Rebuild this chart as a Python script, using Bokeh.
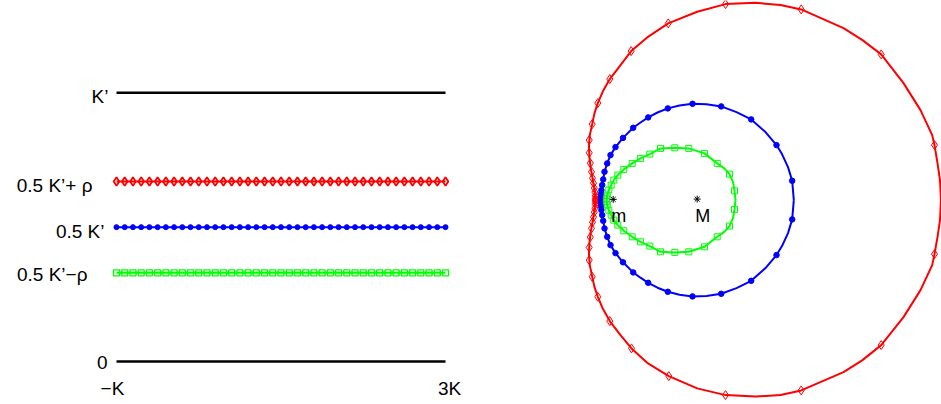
from bokeh.plotting import figure
from bokeh.layouts import row
from bokeh.models import Range1d, ColumnDataSource
from bokeh.core.properties import value
from bokeh.embed import file_html
from bokeh.resources import INLINE

# ---------------- data ----------------
# left panel: strip coordinates (K = 1, K' = 1)
K = 1.0
KP = 1.0
RHO = 0.17
u_samples = [-1.0, -0.9, -0.8, -0.7, -0.6, -0.5, -0.4, -0.3, -0.2, -0.1, 0.0,
             0.1, 0.2, 0.3, 0.4, 0.5, 0.6, 0.7, 0.8, 0.9, 1.0,
             1.1, 1.2, 1.3, 1.4, 1.5, 1.6, 1.7, 1.8, 1.9, 2.0,
             2.1, 2.2, 2.3, 2.4, 2.5, 2.6, 2.7, 2.8, 2.9, 3.0]
level_black = [0.0, KP]
level_red = 0.5 * KP + RHO
level_blue = 0.5 * KP
level_green = 0.5 * KP - RHO
ytick_vals = [KP, 0.5 * KP + RHO, 0.5 * KP, 0.5 * KP - RHO, 0.0]
ytick_labels = ["K\u2019", "0.5 K\u2019+ \u03c1", "0.5 K\u2019", "0.5 K\u2019\u2212\u03c1", "0"]
xtick_vals = [-K, 3 * K]
xtick_labels = ["\u2212K", "3K"]

# right panel: image curves
red_outline = [(243.5, 0), (242.5, 20), (240, 37), (237, 55), (234.7, 65), (223, 90), (206, 117),
               (183.7, 145.7), (165, 160), (146, 172), (103.7, 190.7), (83, 195), (58, 197.3),
               (28, 196), (-0.3, 188.3), (-29.3, 176.7), (-50.3, 162.7), (-66.3, 149), (-77, 135),
               (-87.7, 121), (-94.5, 109), (-99.7, 97), (-103, 87), (-105.3, 76), (-107.7, 65),
               (-108.5, 55), (-108.2, 44), (-106.8, 32), (-105, 22), (-103.5, 13), (-102.4, 6),
               (-102, 0),
               (-102.4, -6), (-103.5, -13), (-105, -22), (-106.8, -32), (-108.2, -44), (-108.5, -55),
               (-107.7, -65), (-105.3, -76.7), (-103, -87), (-99.7, -96.7), (-94.5, -109),
               (-87.7, -121), (-77, -135), (-66, -148.3), (-50.3, -162.7), (-28.7, -176),
               (-0.3, -188.3), (28, -195), (58, -196.5), (83, -195), (103.7, -190.3), (146, -172),
               (165, -160), (183.7, -145), (206, -117), (223, -90), (234.7, -65), (237, -54),
               (240, -37), (242.5, -20), (243.5, 0)]
red_marks = [(237, 55), (183.7, 145.7), (103.7, 190.7), (28, 196), (-29.3, 176.7), (-66.3, 149),
             (-87.7, 121), (-99.7, 97), (-105.3, 76), (-108.3, 60), (-108.3, 47.3), (-107.2, 37),
             (-106, 28.3), (-105, 22), (-104, 17), (-103.2, 12), (-102.6, 8), (-102.2, 4.3),
             (-102, 2), (-102, 0.5),
             (237, -54), (183.7, -145), (103.7, -190.3), (28, -195), (-28.7, -176), (-66, -148.3),
             (-87.7, -121), (-99.7, -96.7), (-105.3, -76.7), (-108.3, -60), (-108.3, -47.3),
             (-107.2, -37), (-106, -28.3), (-105, -22), (-104, -17), (-103.2, -12), (-102.6, -8),
             (-102.2, -4.3), (-102, -2), (-102, -0.5)]

blue_outline = [(96.3, 0), (94.7, 19.3), (90.5, 33), (84.5, 46), (79, 55), (68, 68), (53.7, 80.7),
                (39, 88), (23.7, 93.7), (9, 95.9), (-5, 96.3), (-18, 94.6), (-29.7, 91.7),
                (-40, 87.6), (-49.3, 82.7), (-57, 77.6), (-64.3, 72.3), (-74.5, 62.2), (-82, 53),
                (-87, 45), (-90.3, 36.7), (-93, 28.3), (-94.3, 20.7), (-95.3, 15), (-96.1, 10),
                (-96.4, 3.8), (-96.4, 0),
                (-96.4, -3.8), (-96.1, -10), (-95.3, -15), (-94.3, -20.7), (-93, -28.3),
                (-90.3, -36.7), (-87, -45), (-82, -53), (-74.5, -62.2), (-64.3, -72.3),
                (-57, -77.6), (-49.3, -82.7), (-40, -87.6), (-29.7, -91.7), (-18, -94.6),
                (-5, -96.3), (9, -95.9), (23.7, -93.7), (39, -88), (53.7, -80.7), (68, -68),
                (79, -55), (84.5, -46), (90.5, -33), (94.7, -19.3), (96.3, 0)]
blue_marks = [(94.7, 19.3), (79, 55), (53.7, 80.7), (23.7, 93.7), (-5, 96.3), (-29.7, 91.7),
              (-49.3, 82.7), (-64.3, 72.3), (-74.5, 62.2), (-82, 53), (-87, 45), (-90.3, 36.7),
              (-93, 28.3), (-94.3, 20.7), (-95.3, 15), (-96.1, 10), (-96.3, 6.5), (-96.4, 3.8),
              (-96.4, 1.8), (-96.4, 0.5),
              (94.7, -19.3), (79, -55), (53.7, -80.7), (23.7, -93.7), (-5, -96.3), (-29.7, -91.7),
              (-49.3, -82.7), (-64.3, -72.3), (-74.5, -62.2), (-82, -53), (-87, -45),
              (-90.3, -36.7), (-93, -28.3), (-94.3, -20.7), (-95.3, -15), (-96.1, -10),
              (-96.3, -6.5), (-96.4, -3.8), (-96.4, -1.8), (-96.4, -0.5)]

green_outline = [(38, 0), (37, 9.3), (35.5, 18), (32, 26), (26.5, 32), (19.7, 36.7), (7, 46.7),
                 (-8.7, 51.7), (-22.7, 52.3), (-37, 51.7), (-47.7, 46), (-57, 41.7), (-65.3, 36.7),
                 (-73.7, 30.7), (-79.7, 25), (-83.7, 20), (-86.3, 15), (-88.7, 10), (-90.3, 5),
                 (-90.8, 0),
                 (-90.3, -5), (-88.7, -10), (-86.3, -15), (-83.7, -20), (-79.7, -25),
                 (-73.7, -30.7), (-65.3, -36.7), (-57, -41.7), (-47.7, -46), (-37, -51.7),
                 (-22.7, -52.3), (-8.7, -51.7), (7, -46.7), (19.7, -36.7), (26.5, -32), (32, -26),
                 (35.5, -18), (37, -9.3), (38, 0)]
green_marks = [(37, 9.3), (32, 26), (19.7, 36.7), (7, 46.7), (-8.7, 51.7), (-22.7, 52.3),
               (-37, 51.7), (-47.7, 46), (-57, 41.7), (-65.3, 36.7), (-73.7, 30.7), (-79.7, 25),
               (-83.7, 20), (-86.3, 15), (-88.7, 10), (-90.3, 5), (-90.8, 1.5),
               (37, -9.3), (32, -26), (19.7, -36.7), (7, -46.7), (-8.7, -51.7), (-22.7, -52.3),
               (-37, -51.7), (-47.7, -46), (-57, -41.7), (-65.3, -36.7), (-73.7, -30.7),
               (-79.7, -25), (-83.7, -20), (-86.3, -15), (-88.7, -10), (-90.3, -5), (-90.8, -1.5)]

point_names = ["m", "M"]
point_x = [-84.3, -0.3]
point_y = [0.7, 1.0]

# ---------------- styles ----------------
FONT = value("Liberation Sans")
RED = "#ff0000"
BLUE = "#0000ff"
GREEN = "#00ff00"

# ---------------- left panel ----------------
p1 = figure(width=552, height=404, output_backend="svg", toolbar_location=None,
            x_range=Range1d(-2.4103, 4.3009), y_range=Range1d(-0.16, 1.3435),
            x_axis_location=None, y_axis_location=None, min_border=0)
p1.grid.visible = False
p1.outline_line_color = None

n = len(u_samples)
for lv in level_black:
    p1.line([u_samples[0], u_samples[-1]], [lv, lv], line_color="black", line_width=2.4)

p1.line(u_samples, [level_red] * n, line_color=RED, line_width=2)
p1.scatter(u_samples, [level_red] * n, marker="diamond", size=8.5, fill_color=None,
           line_color=RED, line_width=1.8)
p1.line(u_samples, [level_blue] * n, line_color=BLUE, line_width=2)
p1.scatter(u_samples, [level_blue] * n, marker="circle", size=5, fill_color=BLUE,
           line_color=BLUE)
p1.line(u_samples, [level_green] * n, line_color=GREEN, line_width=2)
p1.scatter(u_samples, [level_green] * n, marker="square", size=6, fill_color=None,
           line_color=GREEN, line_width=1.4)

ysrc = ColumnDataSource(dict(x=[-K] * len(ytick_vals), y=ytick_vals, t=ytick_labels,
                             dx=[-8, -24, -12, -29, -9], dy=[4, 4, 4, 2, 1]))
p1.text(x="x", y="y", text="t", x_offset="dx", y_offset="dy", source=ysrc, text_font=FONT,
        text_font_size="19px", text_align="right", text_baseline="middle", text_color="black")
xsrc = ColumnDataSource(dict(x=xtick_vals, y=[0.0, 0.0], t=xtick_labels, dx=[-4, 4]))
p1.text(x="x", y="y", text="t", x_offset="dx", y_offset=27, source=xsrc, text_font=FONT,
        text_font_size="19px", text_align="center", text_baseline="middle", text_color="black")

# ---------------- right panel ----------------
p2 = figure(width=389, height=404, output_backend="svg", toolbar_location=None,
            x_range=Range1d(-145, 244), y_range=Range1d(-204.4, 199.6),
            x_axis_location=None, y_axis_location=None, min_border=0)
p2.grid.visible = False
p2.outline_line_color = None


def xs(pts):
    return [q[0] for q in pts]


def ys(pts):
    return [q[1] for q in pts]


p2.line(xs(red_outline), ys(red_outline), line_color=RED, line_width=2)
p2.scatter(xs(red_marks), ys(red_marks), marker="diamond", size=9, fill_color=None,
           line_color=RED, line_width=1)
p2.line(xs(blue_outline), ys(blue_outline), line_color=BLUE, line_width=2)
p2.scatter(xs(blue_marks), ys(blue_marks), marker="circle", size=5.5, fill_color=BLUE,
           line_color=BLUE)
p2.line(xs(green_outline), ys(green_outline), line_color=GREEN, line_width=2)
p2.scatter(xs(green_marks), ys(green_marks), marker="square", size=6, fill_color=None,
           line_color=GREEN, line_width=1)

p2.scatter(point_x, point_y, marker="asterisk", size=7, line_color="black", line_width=1)
p2.text(point_x, point_y, text=point_names, x_offset=-2, y_offset=17, text_font=FONT,
        text_font_size="18px", text_align="left", text_baseline="alphabetic",
        text_color="black")

layout = row(p1, p2)
open("out.html", "w").write(file_html(layout, INLINE))
